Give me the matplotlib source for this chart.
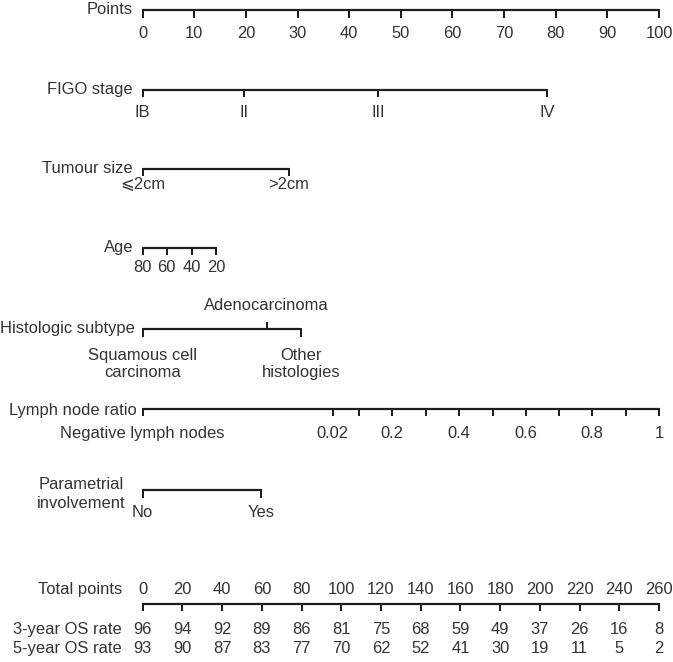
import matplotlib.pyplot as plt

# data (positions in "points" 0-100)
points_ticks = [0, 10, 20, 30, 40, 50, 60, 70, 80, 90, 100]

figo_labels = ['IB', 'II', 'III', 'IV']
figo_points = [0, 19.7, 45.6, 78.3]

tumour_labels = ['\u2a7d2cm', '>2cm']
tumour_points = [0, 28.3]

age_labels = ['80', '60', '40', '20']
age_points = [0, 4.65, 9.5, 14.2]

hist_labels = ['Squamous cell\ncarcinoma', 'Adenocarcinoma', 'Other\nhistologies']
hist_points = [0, 24.0, 30.6]

lnr_values = [0.02, 0.1, 0.2, 0.3, 0.4, 0.5, 0.6, 0.7, 0.8, 0.9, 1.0]
lnr_points = [36.8, 41.9, 48.2, 54.9, 61.3, 67.8, 74.2, 80.6, 87.0, 93.7, 100]
lnr_shown = ['0.02', '0.2', '0.4', '0.6', '0.8', '1']

param_labels = ['No', 'Yes']
param_points = [0, 22.9]

total_ticks = [0, 20, 40, 60, 80, 100, 120, 140, 160, 180, 200, 220, 240, 260]
os3 = [96, 94, 92, 89, 86, 81, 75, 68, 59, 49, 37, 26, 16, 8]
os5 = [93, 90, 87, 83, 77, 70, 62, 52, 41, 30, 19, 11, 5, 2]

# layout (figure pixels)
X0, X1 = 142.7, 659.0
FS = 11.9
LC = '#1e1e1e'
TC = '#333333'
LW = 1.6
TL = 6.5

plt.rcParams['font.family'] = ['Liberation Sans', 'DejaVu Sans']

fig = plt.figure(figsize=(6.73, 6.62), dpi=100)
ax = fig.add_axes([0, 0, 1, 1])
ax.set_xlim(0, 673)
ax.set_ylim(662, 0)
ax.axis('off')


def px(p):
    return X0 + p * (X1 - X0) / 100.0


def tx(t):
    return X0 + t * (X1 - X0) / 260.0


def scale_line(y, xs, up=()):
    ax.plot([xs[0], xs[-1]], [y, y], color=LC, lw=LW, solid_capstyle='butt')
    for i, x in enumerate(xs):
        if i in up:
            ax.plot([x, x], [y, y - TL], color=LC, lw=LW * 0.9)
        else:
            ax.plot([x, x], [y, y + TL], color=LC, lw=LW * 0.9)


def name(y, s, x=133):
    ax.text(x, y, s, ha='right', va='center', fontsize=FS, color=TC)


def lab(x, y, s, ha='center'):
    ax.text(x, y, s, ha=ha, va='center', fontsize=FS, color=TC)


# Points
y = 10
scale_line(y, [px(p) for p in points_ticks])
name(y, 'Points')
for p in points_ticks:
    lab(px(p), 33, str(p))

# FIGO stage
y = 89.5
scale_line(y, [px(p) for p in figo_points])
name(y, 'FIGO stage')
for s, p in zip(figo_labels, figo_points):
    lab(px(p), 112.5, s)

# Tumour size
y = 168.5
scale_line(y, [px(p) for p in tumour_points])
name(y, 'Tumour size')
for s, p in zip(tumour_labels, tumour_points):
    lab(px(p), 184.5, s)

# Age
y = 247.5
scale_line(y, [px(p) for p in age_points])
name(y, 'Age')
for s, p in zip(age_labels, age_points):
    lab(px(p), 268, s)

# Histologic subtype
y = 329
scale_line(y, [px(p) for p in hist_points], up=(1,))
name(y, 'Histologic subtype', x=135)
lab(px(hist_points[0]), 364, hist_labels[0])
lab(px(hist_points[1]), 306, hist_labels[1])
lab(px(hist_points[2]), 364, hist_labels[2])

# Lymph node ratio
y = 408.5
ax.plot([px(0), px(100)], [y, y], color=LC, lw=LW, solid_capstyle='butt')
ax.plot([px(0), px(0)], [y, y + TL], color=LC, lw=LW * 0.9)
for p in lnr_points:
    ax.plot([px(p), px(p)], [y, y + TL], color=LC, lw=LW * 0.9)
name(y + 1.5, 'Lymph node ratio', x=137)
lab(px(0), 433.5, 'Negative lymph nodes')
for v, p in zip(lnr_values, lnr_points):
    s = '{:g}'.format(v)
    if s in lnr_shown:
        lab(px(p), 433.5, s)

# Parametrial involvement
y = 490
scale_line(y, [px(p) for p in param_points])
ax.text(81, 494, 'Parametrial\ninvolvement', ha='center', va='center',
        fontsize=FS, color=TC, linespacing=1.3)
for s, p in zip(param_labels, param_points):
    lab(px(p), 512.5, s)

# Total points and survival
y = 603.5
scale_line(y, [tx(t) for t in total_ticks])
name(589.5, 'Total points', x=122)
name(629.5, '3-year OS rate', x=122)
name(648.5, '5-year OS rate', x=122)
for t, a, b in zip(total_ticks, os3, os5):
    lab(tx(t), 589.5, str(t))
    lab(tx(t), 629.5, str(a))
    lab(tx(t), 648.5, str(b))

fig.savefig('out.png', dpi=100)
